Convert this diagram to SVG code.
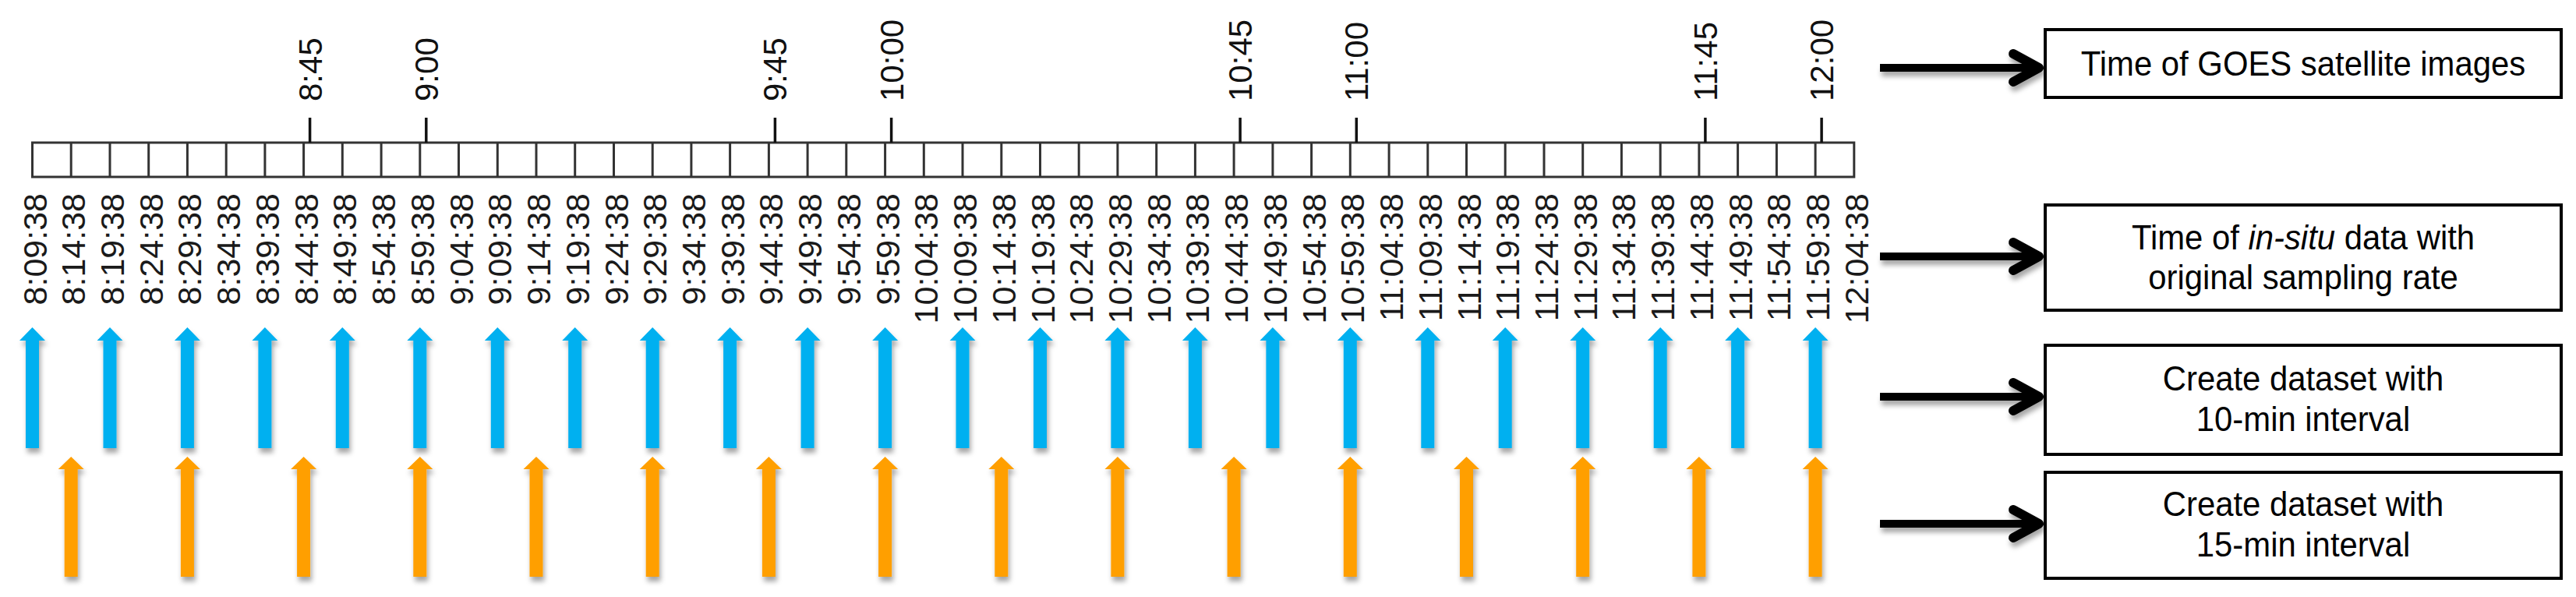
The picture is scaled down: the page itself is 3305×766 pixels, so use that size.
<svg xmlns="http://www.w3.org/2000/svg" xmlns:xlink="http://www.w3.org/1999/xlink" width="3305" height="766" viewBox="0 0 3305 766">
<style>
.bar{fill:#fff;stroke:#333;stroke-width:3}
.cell{stroke:#333;stroke-width:3}
.tick{stroke:#111;stroke-width:3.5}
.tl{font-family:"Liberation Sans",Arial,sans-serif;font-size:42px;fill:#111}
.dl{font-family:"Liberation Sans",Arial,sans-serif;font-size:43px;fill:#1a1a1a;text-anchor:end}
.box{fill:#fff;stroke:#000;stroke-width:4}
.bt{font-family:"Liberation Sans",Arial,sans-serif;font-size:45px;fill:#000;text-anchor:middle}
.blue{fill:#00B0F0}
.orange{fill:#FF9F00}
.shaft{stroke:#000;stroke-width:10;fill:none}
.head{stroke:#000;stroke-width:12;fill:none;stroke-linecap:round;stroke-linejoin:round}
</style>
<defs>
<filter id="sh" x="-50%" y="-20%" width="200%" height="150%">
<feDropShadow dx="2" dy="6" stdDeviation="3" flood-color="#000" flood-opacity="0.35"/>
</filter>
<path id="ab" d="M-8.5,575 L-8.5,437 L-16.5,437 L0,420 L16.5,437 L8.5,437 L8.5,575 Z"/>
<path id="ao" d="M-8.5,740 L-8.5,602 L-16.5,602 L0,586 L16.5,602 L8.5,602 L8.5,740 Z"/>
</defs>
<rect width="3305" height="766" fill="#fff"/>

<g id="timeline">
<rect class="bar" x="41.5" y="183" width="2337.3" height="44"/>
<g class="cell">
<line x1="91.2" y1="183" x2="91.2" y2="227"/><line x1="141" y1="183" x2="141" y2="227"/><line x1="190.7" y1="183" x2="190.7" y2="227"/><line x1="240.4" y1="183" x2="240.4" y2="227"/><line x1="290.2" y1="183" x2="290.2" y2="227"/><line x1="339.9" y1="183" x2="339.9" y2="227"/><line x1="389.6" y1="183" x2="389.6" y2="227"/><line x1="439.3" y1="183" x2="439.3" y2="227"/><line x1="489.1" y1="183" x2="489.1" y2="227"/><line x1="538.8" y1="183" x2="538.8" y2="227"/><line x1="588.5" y1="183" x2="588.5" y2="227"/><line x1="638.3" y1="183" x2="638.3" y2="227"/><line x1="688" y1="183" x2="688" y2="227"/><line x1="737.7" y1="183" x2="737.7" y2="227"/><line x1="787.5" y1="183" x2="787.5" y2="227"/><line x1="837.2" y1="183" x2="837.2" y2="227"/><line x1="886.9" y1="183" x2="886.9" y2="227"/><line x1="936.6" y1="183" x2="936.6" y2="227"/><line x1="986.4" y1="183" x2="986.4" y2="227"/><line x1="1036.1" y1="183" x2="1036.1" y2="227"/><line x1="1085.8" y1="183" x2="1085.8" y2="227"/><line x1="1135.6" y1="183" x2="1135.6" y2="227"/><line x1="1185.3" y1="183" x2="1185.3" y2="227"/><line x1="1235" y1="183" x2="1235" y2="227"/><line x1="1284.8" y1="183" x2="1284.8" y2="227"/><line x1="1334.5" y1="183" x2="1334.5" y2="227"/><line x1="1384.2" y1="183" x2="1384.2" y2="227"/><line x1="1433.9" y1="183" x2="1433.9" y2="227"/><line x1="1483.7" y1="183" x2="1483.7" y2="227"/><line x1="1533.4" y1="183" x2="1533.4" y2="227"/><line x1="1583.1" y1="183" x2="1583.1" y2="227"/><line x1="1632.9" y1="183" x2="1632.9" y2="227"/><line x1="1682.6" y1="183" x2="1682.6" y2="227"/><line x1="1732.3" y1="183" x2="1732.3" y2="227"/><line x1="1782.1" y1="183" x2="1782.1" y2="227"/><line x1="1831.8" y1="183" x2="1831.8" y2="227"/><line x1="1881.5" y1="183" x2="1881.5" y2="227"/><line x1="1931.2" y1="183" x2="1931.2" y2="227"/><line x1="1981" y1="183" x2="1981" y2="227"/><line x1="2030.7" y1="183" x2="2030.7" y2="227"/><line x1="2080.4" y1="183" x2="2080.4" y2="227"/><line x1="2130.2" y1="183" x2="2130.2" y2="227"/><line x1="2179.9" y1="183" x2="2179.9" y2="227"/><line x1="2229.6" y1="183" x2="2229.6" y2="227"/><line x1="2279.4" y1="183" x2="2279.4" y2="227"/><line x1="2329.1" y1="183" x2="2329.1" y2="227"/>
</g>
<g class="tick">
<line x1="397.6" y1="151" x2="397.6" y2="183"/><line x1="546.8" y1="151" x2="546.8" y2="183"/><line x1="994.4" y1="151" x2="994.4" y2="183"/><line x1="1143.6" y1="151" x2="1143.6" y2="183"/><line x1="1591.1" y1="151" x2="1591.1" y2="183"/><line x1="1740.3" y1="151" x2="1740.3" y2="183"/><line x1="2187.9" y1="151" x2="2187.9" y2="183"/><line x1="2337.1" y1="151" x2="2337.1" y2="183"/>
</g>
</g>

<g id="goes-times">
<text class="tl" transform="translate(412.6,130) rotate(-90)">8:45</text>
<text class="tl" transform="translate(561.8,130) rotate(-90)">9:00</text>
<text class="tl" transform="translate(1009.4,130) rotate(-90)">9:45</text>
<text class="tl" transform="translate(1158.6,130) rotate(-90)">10:00</text>
<text class="tl" transform="translate(1606.1,130) rotate(-90)">10:45</text>
<text class="tl" transform="translate(1755.3,130) rotate(-90)">11:00</text>
<text class="tl" transform="translate(2202.9,130) rotate(-90)">11:45</text>
<text class="tl" transform="translate(2352.1,130) rotate(-90)">12:00</text>
</g>

<g id="insitu-times">
<text class="dl" transform="translate(59.5,248) rotate(-90)">8:09:38</text>
<text class="dl" transform="translate(109.2,248) rotate(-90)">8:14:38</text>
<text class="dl" transform="translate(159,248) rotate(-90)">8:19:38</text>
<text class="dl" transform="translate(208.7,248) rotate(-90)">8:24:38</text>
<text class="dl" transform="translate(258.4,248) rotate(-90)">8:29:38</text>
<text class="dl" transform="translate(308.2,248) rotate(-90)">8:34:38</text>
<text class="dl" transform="translate(357.9,248) rotate(-90)">8:39:38</text>
<text class="dl" transform="translate(407.6,248) rotate(-90)">8:44:38</text>
<text class="dl" transform="translate(457.3,248) rotate(-90)">8:49:38</text>
<text class="dl" transform="translate(507.1,248) rotate(-90)">8:54:38</text>
<text class="dl" transform="translate(556.8,248) rotate(-90)">8:59:38</text>
<text class="dl" transform="translate(606.5,248) rotate(-90)">9:04:38</text>
<text class="dl" transform="translate(656.3,248) rotate(-90)">9:09:38</text>
<text class="dl" transform="translate(706,248) rotate(-90)">9:14:38</text>
<text class="dl" transform="translate(755.7,248) rotate(-90)">9:19:38</text>
<text class="dl" transform="translate(805.5,248) rotate(-90)">9:24:38</text>
<text class="dl" transform="translate(855.2,248) rotate(-90)">9:29:38</text>
<text class="dl" transform="translate(904.9,248) rotate(-90)">9:34:38</text>
<text class="dl" transform="translate(954.6,248) rotate(-90)">9:39:38</text>
<text class="dl" transform="translate(1004.4,248) rotate(-90)">9:44:38</text>
<text class="dl" transform="translate(1054.1,248) rotate(-90)">9:49:38</text>
<text class="dl" transform="translate(1103.8,248) rotate(-90)">9:54:38</text>
<text class="dl" transform="translate(1153.6,248) rotate(-90)">9:59:38</text>
<text class="dl" transform="translate(1203.3,248) rotate(-90)">10:04:38</text>
<text class="dl" transform="translate(1253,248) rotate(-90)">10:09:38</text>
<text class="dl" transform="translate(1302.8,248) rotate(-90)">10:14:38</text>
<text class="dl" transform="translate(1352.5,248) rotate(-90)">10:19:38</text>
<text class="dl" transform="translate(1402.2,248) rotate(-90)">10:24:38</text>
<text class="dl" transform="translate(1451.9,248) rotate(-90)">10:29:38</text>
<text class="dl" transform="translate(1501.7,248) rotate(-90)">10:34:38</text>
<text class="dl" transform="translate(1551.4,248) rotate(-90)">10:39:38</text>
<text class="dl" transform="translate(1601.1,248) rotate(-90)">10:44:38</text>
<text class="dl" transform="translate(1650.9,248) rotate(-90)">10:49:38</text>
<text class="dl" transform="translate(1700.6,248) rotate(-90)">10:54:38</text>
<text class="dl" transform="translate(1750.3,248) rotate(-90)">10:59:38</text>
<text class="dl" transform="translate(1800.1,248) rotate(-90)">11:04:38</text>
<text class="dl" transform="translate(1849.8,248) rotate(-90)">11:09:38</text>
<text class="dl" transform="translate(1899.5,248) rotate(-90)">11:14:38</text>
<text class="dl" transform="translate(1949.2,248) rotate(-90)">11:19:38</text>
<text class="dl" transform="translate(1999,248) rotate(-90)">11:24:38</text>
<text class="dl" transform="translate(2048.7,248) rotate(-90)">11:29:38</text>
<text class="dl" transform="translate(2098.4,248) rotate(-90)">11:34:38</text>
<text class="dl" transform="translate(2148.2,248) rotate(-90)">11:39:38</text>
<text class="dl" transform="translate(2197.9,248) rotate(-90)">11:44:38</text>
<text class="dl" transform="translate(2247.6,248) rotate(-90)">11:49:38</text>
<text class="dl" transform="translate(2297.4,248) rotate(-90)">11:54:38</text>
<text class="dl" transform="translate(2347.1,248) rotate(-90)">11:59:38</text>
<text class="dl" transform="translate(2396.8,248) rotate(-90)">12:04:38</text>
</g>

<g id="arrows-10min" class="blue" filter="url(#sh)">
<use xlink:href="#ab" x="41.5"/><use xlink:href="#ab" x="141"/><use xlink:href="#ab" x="240.4"/><use xlink:href="#ab" x="339.9"/><use xlink:href="#ab" x="439.3"/><use xlink:href="#ab" x="538.8"/><use xlink:href="#ab" x="638.3"/><use xlink:href="#ab" x="737.7"/><use xlink:href="#ab" x="837.2"/><use xlink:href="#ab" x="936.6"/><use xlink:href="#ab" x="1036.1"/><use xlink:href="#ab" x="1135.6"/><use xlink:href="#ab" x="1235"/><use xlink:href="#ab" x="1334.5"/><use xlink:href="#ab" x="1433.9"/><use xlink:href="#ab" x="1533.4"/><use xlink:href="#ab" x="1632.9"/><use xlink:href="#ab" x="1732.3"/><use xlink:href="#ab" x="1831.8"/><use xlink:href="#ab" x="1931.2"/><use xlink:href="#ab" x="2030.7"/><use xlink:href="#ab" x="2130.2"/><use xlink:href="#ab" x="2229.6"/><use xlink:href="#ab" x="2329.1"/>
</g>

<g id="arrows-15min" class="orange" filter="url(#sh)">
<use xlink:href="#ao" x="91.2"/><use xlink:href="#ao" x="240.4"/><use xlink:href="#ao" x="389.6"/><use xlink:href="#ao" x="538.8"/><use xlink:href="#ao" x="688"/><use xlink:href="#ao" x="837.2"/><use xlink:href="#ao" x="986.4"/><use xlink:href="#ao" x="1135.6"/><use xlink:href="#ao" x="1284.8"/><use xlink:href="#ao" x="1433.9"/><use xlink:href="#ao" x="1583.1"/><use xlink:href="#ao" x="1732.3"/><use xlink:href="#ao" x="1881.5"/><use xlink:href="#ao" x="2030.7"/><use xlink:href="#ao" x="2179.9"/><use xlink:href="#ao" x="2329.1"/>
</g>

<g id="connectors" filter="url(#sh)">
<line class="shaft" x1="2412" y1="87" x2="2612" y2="87"/><polyline class="head" points="2583,69 2616,87 2583,105"/>
<line class="shaft" x1="2412" y1="329" x2="2612" y2="329"/><polyline class="head" points="2583,311 2616,329 2583,347"/>
<line class="shaft" x1="2412" y1="509" x2="2612" y2="509"/><polyline class="head" points="2583,491 2616,509 2583,527"/>
<line class="shaft" x1="2412" y1="672" x2="2612" y2="672"/><polyline class="head" points="2583,654 2616,672 2583,690"/>
</g>

<g id="box-goes">
<rect class="box" x="2624" y="38" width="662" height="87"/>
<text class="bt" transform="translate(2955,97) scale(0.93,1)">Time of GOES satellite images</text>
</g>
<g id="box-insitu">
<rect class="box" x="2624" y="263" width="662" height="135"/>
<text class="bt" transform="translate(2955,320) scale(0.93,1)">Time of <tspan font-style="italic">in-situ</tspan> data with</text>
<text class="bt" transform="translate(2955,371) scale(0.93,1)">original sampling rate</text>
</g>
<g id="box-10min">
<rect class="box" x="2624" y="443" width="662" height="140"/>
<text class="bt" transform="translate(2955,501) scale(0.93,1)">Create dataset with</text>
<text class="bt" transform="translate(2955,553) scale(0.93,1)">10-min interval</text>
</g>
<g id="box-15min">
<rect class="box" x="2624" y="606" width="662" height="136"/>
<text class="bt" transform="translate(2955,662) scale(0.93,1)">Create dataset with</text>
<text class="bt" transform="translate(2955,714) scale(0.93,1)">15-min interval</text>
</g>
</svg>
